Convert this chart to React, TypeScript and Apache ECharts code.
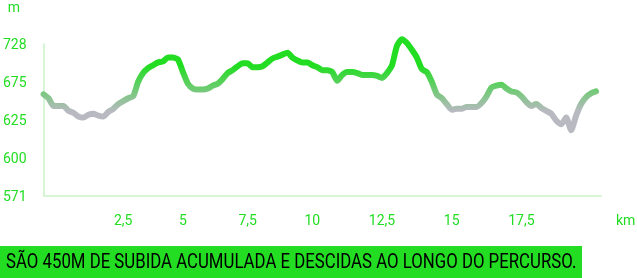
import { useEffect, useRef } from 'react';
import * as echarts from 'echarts';

const GREEN = '#22dd22';
const GRAY = '#b9b9c2';
const AXIS = '#d6f6d6';

// cumulative distance of each GPS sample (km); last one has no sample drawn
const distanceKm = [
  0.0, 0.2, 0.3, 0.5, 0.6, 0.8, 0.9, 1.1, 1.3, 1.4, 1.6, 1.7, 1.9, 2.0, 2.2, 2.3, 2.5,
  2.7, 2.9, 3.1, 3.3, 3.5, 3.8, 4.0, 4.2, 4.4, 4.6, 4.8, 5.0,
  5.2, 5.4, 5.6, 5.8, 6.0, 6.2, 6.3, 6.5, 6.7, 6.9, 7.1, 7.3, 7.5,
  7.7, 7.9, 8.1, 8.3, 8.5, 8.7, 8.8, 9.0, 9.2, 9.4, 9.6, 9.8, 10.0,
  10.2, 10.4, 10.5, 10.7, 10.9, 11.1, 11.3, 11.4, 11.6, 11.8, 12.0, 12.1, 12.3, 12.5,
  12.7, 12.9, 13.0, 13.2, 13.4, 13.6, 13.8, 13.9, 14.1, 14.3, 14.5, 14.6, 14.8, 15.0,
  15.2, 15.4, 15.5, 15.7, 15.9, 16.1, 16.3, 16.4, 16.6, 16.8, 17.0, 17.1, 17.3, 17.5,
  17.6, 17.8, 17.9, 18.0, 18.2, 18.3, 18.5, 18.6, 18.8, 18.9, 19.1, 19.2, 19.4, 19.5, 19.7, 19.8,
];

// elevation (m)
const elevationM = [
  676, 672, 664, 664, 664, 659, 657, 653, 652, 655,
  656, 654, 653, 658, 661, 666, 669, 672, 674, 689,
  698, 703, 706, 709, 710, 714, 714, 712, 699, 687,
  682, 681, 681, 682, 685, 687, 692, 698, 701, 705,
  708, 708, 704, 704, 705, 709, 713, 715, 717, 719,
  714, 711, 709, 709, 706, 704, 701, 701, 699, 690,
  696, 699, 699, 698, 696, 696, 696, 695, 693, 698,
  706, 726, 733, 729, 722, 714, 702, 699, 689, 676,
  672, 666, 660, 661, 661, 663, 663, 663, 667, 674,
  683, 685, 686, 682, 679, 678, 674, 668, 664, 666,
  662, 659, 656, 649, 645, 652, 639, 654, 666, 673,
  677, 679,
];

const kmTicks = [2.5, 5, 7.5, 10, 12.5, 15, 17.5];
const kmTickLabels = ['2,5', '5', '7,5', '10', '12,5', '15', '17,5'];
const elevationTickLabels = ['571', '600', '625', '675', '728'];
const elevationMin = 571;
const elevationMax = 728;

const bannerText = 'SÃO 450M DE SUBIDA ACUMULADA E DESCIDAS AO LONGO DO PERCURSO.';

export default function App() {
  const ref = useRef<HTMLDivElement>(null);

  useEffect(() => {
    if (!ref.current) return;
    const chart = echarts.init(ref.current, null, { renderer: 'svg' });

    const labelByIndex = new Map<number, string>();
    kmTicks.forEach((t, k) => {
      const idx = distanceKm.findIndex((d) => d >= t - 1e-9);
      if (idx >= 0) labelByIndex.set(idx, kmTickLabels[k]);
    });

    chart.setOption({
      animation: false,
      textStyle: { fontFamily: 'Roboto' },
      grid: { left: 43, right: 36, top: 44, bottom: 82 },
      xAxis: {
        type: 'category',
        data: distanceKm.map(String),
        boundaryGap: false,
        axisLine: { onZero: false, lineStyle: { color: AXIS, width: 2 } },
        axisTick: { show: false },
        splitLine: { show: false },
        axisLabel: {
          interval: (i: number) => labelByIndex.has(i),
          formatter: (_v: string, i: number) => labelByIndex.get(i) ?? '',
          color: GREEN,
          fontFamily: 'Roboto',
          fontSize: 14,
          margin: 17,
        },
      },
      yAxis: [
        { type: 'value', min: elevationMin, max: elevationMax, show: false },
        {
          type: 'value',
          min: 0,
          max: elevationTickLabels.length - 1,
          interval: 1,
          position: 'left',
          axisLine: { show: true, lineStyle: { color: AXIS, width: 2 } },
          axisTick: { show: false },
          splitLine: { show: false },
          axisLabel: {
            formatter: (v: number) => elevationTickLabels[v] ?? '',
            color: GREEN,
            fontFamily: 'Roboto',
            fontSize: 14,
            margin: 17,
          },
        },
      ],
      visualMap: {
        type: 'continuous',
        show: false,
        seriesIndex: 0,
        dimension: 1,
        min: 658,
        max: 705,
        inRange: { color: [GRAY, GREEN] },
      },
      series: [
        {
          type: 'line',
          data: elevationM,
          yAxisIndex: 0,
          showSymbol: false,
          clip: false,
          smooth: 0.2,
          lineStyle: { width: 6, cap: 'round', join: 'round' },
        },
      ],
      graphic: [
        {
          type: 'text',
          x: 14,
          y: 7,
          style: {
            text: 'm', fill: GREEN, font: '14px Roboto',
            align: 'center', verticalAlign: 'middle', textAlign: 'center', textVerticalAlign: 'middle',
          },
        },
        {
          type: 'text',
          x: 616,
          y: 220,
          style: {
            text: 'km', fill: GREEN, font: '14px Roboto',
            align: 'left', verticalAlign: 'middle', textAlign: 'left', textVerticalAlign: 'middle',
          },
        },
        {
          type: 'rect',
          shape: { x: 0, y: 246, width: 582, height: 32 },
          style: { fill: GREEN },
        },
        {
          type: 'text',
          x: 6,
          y: 262,
          scaleX: 0.84,
          style: {
            text: bannerText, fill: '#000', font: '20px Roboto',
            align: 'left', verticalAlign: 'middle', textAlign: 'left', textVerticalAlign: 'middle',
          },
        },
      ],
    });

    return () => chart.dispose();
  }, []);

  return (
    <div
      ref={ref}
      style={{ position: 'fixed', left: 0, top: 0, width: 637, height: 278 }}
    />
  );
}
